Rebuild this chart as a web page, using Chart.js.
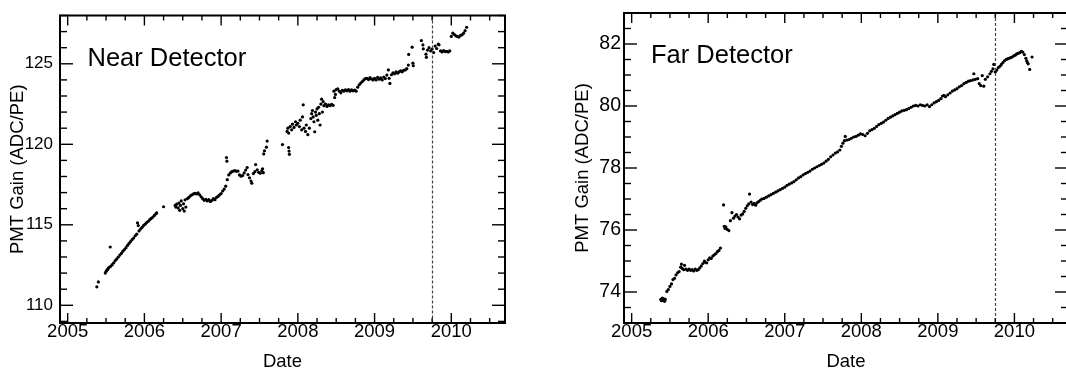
<!DOCTYPE html>
<html>
<head>
<meta charset="utf-8">
<script src="https://cdn.jsdelivr.net/npm/chart.js@4.4.1/dist/chart.umd.min.js"></script>
<style>
  html, body { margin: 0; padding: 0; background: #fff; overflow: hidden; }
  body { width: 1066px; height: 372px; position: relative; }
  canvas { position: absolute; top: 0; }
  #near { left: 0; }
  #far { left: 540px; }
</style>
</head>
<body>
<canvas id="near" width="540" height="372"></canvas>
<canvas id="far" width="540" height="372"></canvas>
<script>
// values: [year, gain]
const nearPoints = [
  [2005.38,111.15],[2005.40,111.45],
  [2005.49,112.00],[2005.50,112.10],[2005.51,112.18],[2005.52,112.22],[2005.53,112.30],[2005.54,112.36],
  [2005.555,113.62],[2005.56,112.42],[2005.58,112.52],[2005.60,112.64],[2005.62,112.78],[2005.64,112.88],
  [2005.66,113.00],[2005.68,113.12],[2005.70,113.22],[2005.72,113.36],[2005.74,113.46],[2005.76,113.58],
  [2005.78,113.72],[2005.80,113.84],[2005.82,113.96],[2005.84,114.08],[2005.86,114.18],[2005.88,114.32],
  [2005.90,114.42],[2005.91,115.12],[2005.92,114.95],[2005.93,114.62],[2005.95,114.74],[2005.97,114.84],
  [2005.99,114.96],[2006.01,115.04],[2006.03,115.14],[2006.05,115.22],[2006.07,115.32],[2006.09,115.40],
  [2006.11,115.48],[2006.13,115.58],[2006.15,115.68],[2006.16,115.74],
  [2006.25,116.12],
  [2006.40,116.20],[2006.41,116.10],[2006.42,116.28],[2006.44,116.05],[2006.45,116.35],[2006.46,115.90],
  [2006.47,116.20],[2006.48,116.48],[2006.50,116.00],[2006.51,116.30],[2006.52,115.85],[2006.53,116.55],
  [2006.54,116.10],[2006.56,116.62],[2006.58,116.70],[2006.60,116.80],[2006.62,116.86],[2006.64,116.92],
  [2006.66,116.96],[2006.68,116.92],[2006.70,116.98],[2006.72,116.86],[2006.74,116.74],[2006.76,116.62],
  [2006.78,116.52],[2006.80,116.58],[2006.82,116.48],[2006.84,116.56],[2006.86,116.44],[2006.88,116.52],
  [2006.90,116.62],[2006.92,116.56],[2006.94,116.70],[2006.96,116.76],[2006.98,116.86],[2007.00,116.94],
  [2007.02,117.10],[2007.04,117.22],[2007.06,117.40],[2007.07,119.18],[2007.075,118.95],[2007.08,117.80],
  [2007.10,118.10],[2007.12,118.22],[2007.14,118.30],[2007.16,118.34],[2007.18,118.36],[2007.20,118.32],
  [2007.22,118.34],[2007.24,118.10],[2007.26,118.02],[2007.28,118.06],[2007.30,118.22],[2007.32,118.40],
  [2007.34,118.56],[2007.35,118.12],[2007.37,117.92],[2007.39,117.72],[2007.40,117.58],[2007.42,118.18],
  [2007.44,118.30],[2007.45,118.74],[2007.47,118.42],[2007.49,118.26],[2007.51,118.20],[2007.53,118.36],
  [2007.54,118.48],[2007.55,118.24],[2007.555,119.40],[2007.565,119.60],[2007.59,119.82],[2007.60,120.20],
  [2007.80,119.98],[2007.88,119.80],[2007.885,119.58],[2007.89,119.38],
  [2007.86,120.80],[2007.87,121.00],[2007.88,120.70],[2007.90,121.10],[2007.92,120.90],[2007.93,121.25],
  [2007.95,121.05],[2007.97,121.40],[2007.98,121.20],[2008.00,121.30],[2008.02,121.10],[2008.03,121.50],
  [2008.05,120.90],[2008.06,121.70],[2008.07,122.45],[2008.08,121.00],[2008.10,120.80],[2008.11,121.20],
  [2008.13,120.60],[2008.15,121.00],[2008.17,121.60],[2008.18,121.90],[2008.19,122.10],[2008.20,121.70],
  [2008.21,121.40],[2008.22,120.78],[2008.23,122.00],[2008.24,121.80],[2008.25,122.20],[2008.26,121.50],
  [2008.27,122.30],[2008.28,121.90],[2008.29,121.20],[2008.30,122.50],[2008.31,122.80],[2008.32,122.00],
  [2008.33,122.65],[2008.34,122.40],[2008.36,122.50],[2008.38,122.35],[2008.40,122.45],[2008.42,122.40],
  [2008.44,122.48],[2008.46,122.42],[2008.47,123.30],[2008.48,122.90],[2008.49,123.10],[2008.50,123.40],
  [2008.52,123.45],[2008.54,123.30],[2008.56,123.20],[2008.58,123.35],[2008.60,123.30],[2008.62,123.38],
  [2008.64,123.32],[2008.66,123.40],[2008.68,123.30],[2008.70,123.38],[2008.72,123.32],[2008.74,123.36],
  [2008.76,123.30],[2008.78,123.55],[2008.80,123.70],[2008.82,123.80],[2008.84,123.90],[2008.86,124.00],
  [2008.88,124.08],[2008.90,124.10],[2008.92,124.02],[2008.94,124.14],[2008.96,124.06],[2008.98,124.00],
  [2009.00,124.10],[2009.02,124.00],[2009.04,124.16],[2009.06,124.04],[2009.08,124.12],[2009.10,124.00],
  [2009.12,124.18],[2009.14,124.08],[2009.16,124.30],[2009.18,124.62],[2009.19,124.10],[2009.20,123.78],
  [2009.22,124.32],[2009.24,124.44],[2009.26,124.38],[2009.28,124.50],[2009.30,124.42],[2009.32,124.50],
  [2009.34,124.56],[2009.36,124.50],[2009.38,124.60],[2009.40,124.62],[2009.42,124.70],[2009.44,124.92],
  [2009.445,125.58],[2009.49,126.03],[2009.50,125.04],[2009.505,124.88],
  [2009.61,126.44],[2009.63,126.17],[2009.635,125.93],[2009.67,125.60],[2009.675,125.40],[2009.69,125.85],
  [2009.71,126.00],[2009.73,125.80],[2009.75,125.92],[2009.77,125.70],[2009.79,126.10],[2009.81,125.95],
  [2009.83,126.22],[2009.84,126.18],[2009.86,125.80],[2009.88,125.74],[2009.90,125.82],[2009.92,125.76],
  [2009.94,125.78],[2009.96,125.74],[2009.98,125.80],
  [2010.00,126.70],[2010.02,126.90],[2010.04,126.82],[2010.06,126.74],[2010.08,126.70],[2010.10,126.66],
  [2010.12,126.76],[2010.14,126.80],[2010.16,126.90],[2010.18,127.06],[2010.20,127.27]
];

const farPoints = [
  [2005.38,73.76],[2005.39,73.72],[2005.40,73.80],[2005.41,73.74],[2005.42,73.78],[2005.43,73.70],
  [2005.44,73.76],[2005.46,74.02],[2005.48,74.08],[2005.50,74.18],[2005.52,74.26],[2005.54,74.40],
  [2005.56,74.44],[2005.58,74.55],[2005.60,74.62],[2005.62,74.66],[2005.64,74.80],[2005.65,74.90],
  [2005.66,74.76],[2005.68,74.72],[2005.69,74.86],[2005.71,74.74],[2005.73,74.70],[2005.75,74.74],
  [2005.77,74.70],[2005.79,74.72],[2005.81,74.68],[2005.83,74.74],[2005.85,74.70],[2005.87,74.72],
  [2005.89,74.78],[2005.91,74.84],[2005.93,74.92],[2005.95,75.00],[2005.96,74.96],[2005.98,74.94],
  [2006.00,75.04],[2006.02,75.10],[2006.04,75.08],[2006.06,75.16],[2006.08,75.20],[2006.10,75.24],
  [2006.12,75.30],[2006.14,75.34],[2006.16,75.42],
  [2006.20,76.81],[2006.21,76.12],[2006.22,76.05],[2006.23,76.10],[2006.25,76.02],[2006.27,75.98],
  [2006.29,76.30],[2006.31,76.56],[2006.33,76.38],[2006.35,76.45],[2006.37,76.50],[2006.39,76.42],
  [2006.41,76.36],[2006.43,76.48],[2006.45,76.52],[2006.47,76.60],[2006.49,76.70],[2006.51,76.78],
  [2006.53,76.84],[2006.54,77.16],[2006.56,76.90],[2006.58,76.82],[2006.60,76.86],[2006.62,76.80],
  [2006.64,76.88],[2006.66,76.92],[2006.68,76.96],[2006.70,77.00],[2006.73,77.02],[2006.76,77.06],
  [2006.79,77.10],[2006.82,77.14],[2006.85,77.18],[2006.88,77.22],[2006.91,77.26],[2006.94,77.30],
  [2006.97,77.34],[2007.00,77.38],[2007.03,77.44],[2007.06,77.48],[2007.09,77.52],[2007.12,77.56],
  [2007.15,77.62],[2007.18,77.68],[2007.21,77.72],[2007.24,77.78],[2007.27,77.82],[2007.30,77.86],
  [2007.33,77.90],[2007.36,77.96],[2007.39,78.00],[2007.42,78.04],[2007.45,78.08],[2007.48,78.12],
  [2007.51,78.16],[2007.54,78.22],[2007.57,78.28],[2007.60,78.36],[2007.63,78.42],[2007.66,78.48],
  [2007.69,78.52],[2007.72,78.58],[2007.74,78.70],[2007.76,78.80],[2007.78,78.88],[2007.79,79.02],
  [2007.81,78.90],[2007.84,78.92],[2007.87,78.96],[2007.90,79.00],[2007.93,79.02],[2007.96,79.06],
  [2007.99,79.10],[2008.02,79.08],[2008.05,79.04],[2008.08,79.12],[2008.11,79.20],[2008.14,79.24],
  [2008.17,79.28],[2008.20,79.34],[2008.23,79.40],[2008.26,79.44],[2008.29,79.48],[2008.32,79.54],
  [2008.35,79.60],[2008.38,79.64],[2008.41,79.68],[2008.44,79.72],[2008.47,79.76],[2008.50,79.80],
  [2008.53,79.84],[2008.56,79.86],[2008.59,79.88],[2008.62,79.92],[2008.65,79.96],[2008.68,80.00],
  [2008.71,80.02],[2008.74,80.00],[2008.77,80.04],[2008.80,80.02],[2008.83,80.00],[2008.86,80.04],
  [2008.89,79.98],[2008.92,80.04],[2008.95,80.10],[2008.98,80.14],[2009.01,80.18],[2009.04,80.24],
  [2009.06,80.32],[2009.08,80.34],[2009.10,80.30],[2009.13,80.36],[2009.16,80.42],[2009.19,80.48],
  [2009.22,80.52],[2009.25,80.56],[2009.28,80.62],[2009.31,80.66],[2009.34,80.72],[2009.37,80.76],
  [2009.40,80.80],[2009.43,80.82],[2009.46,80.84],[2009.47,81.04],[2009.49,80.86],[2009.52,80.88],
  [2009.54,80.72],[2009.56,80.66],[2009.58,80.98],[2009.60,80.64],[2009.62,80.86],[2009.65,80.94],
  [2009.68,81.04],[2009.70,81.12],[2009.72,81.20],[2009.73,81.34],[2009.75,81.10],[2009.77,81.16],
  [2009.79,81.24],[2009.81,81.28],[2009.83,81.34],[2009.85,81.40],[2009.87,81.46],[2009.89,81.50],
  [2009.91,81.52],[2009.93,81.54],[2009.95,81.56],[2009.97,81.58],[2009.99,81.62],[2010.01,81.64],
  [2010.03,81.68],[2010.05,81.70],[2010.07,81.72],[2010.09,81.76],[2010.11,81.74],[2010.13,81.66],
  [2010.15,81.54],[2010.16,81.46],[2010.17,81.40],[2010.18,81.36],[2010.20,81.18],[2010.23,81.58]
];

const yearTicks = [2005, 2006, 2007, 2008, 2009, 2010];
const nearGainTicks = [110, 115, 120, 125];
const farGainTicks = [74, 76, 78, 80, 82];
const markerYear = 2009.75; // dashed line

const FONT = '"Liberation Sans", Helvetica, Arial, sans-serif';
Chart.defaults.font.family = FONT;
Chart.defaults.color = '#000';

// inward ticks on all four sides, frame, dashed marker and panel label
const rootFrame = {
  id: 'rootFrame',
  afterDatasetsDraw(chart, args, o) {
    const { ctx, chartArea: a, scales: { x, y } } = chart;
    ctx.save();

    const px = x.getPixelForValue(o.dashAt);
    ctx.strokeStyle = '#444';
    ctx.lineWidth = 1.2;
    ctx.setLineDash([3, 2]);
    ctx.beginPath();
    ctx.moveTo(Math.round(px) + 0.5, a.top);
    ctx.lineTo(Math.round(px) + 0.5, a.bottom);
    ctx.stroke();
    ctx.setLineDash([]);

    ctx.strokeStyle = '#000';
    ctx.lineWidth = 1.4;
    const line = (x1, y1, x2, y2) => { ctx.beginPath(); ctx.moveTo(x1, y1); ctx.lineTo(x2, y2); ctx.stroke(); };
    const ticks = (scale, step, major, horiz, majLen, minLen) => {
      const n0 = Math.ceil(scale.min / step - 1e-6), n1 = Math.floor(scale.max / step + 1e-6);
      for (let k = n0; k <= n1; k++) {
        const v = k * step;
        const isMajor = Math.abs(v / major - Math.round(v / major)) < 1e-6;
        const len = isMajor ? majLen : minLen;
        const p = scale.getPixelForValue(v);
        if (horiz) { line(p, a.bottom, p, a.bottom - len); line(p, a.top, p, a.top + len); }
        else { line(a.left, p, a.left + len, p); line(a.right, p, a.right - len, p); }
      }
    };
    ticks(x, 0.25, 1, true, 10, 5);
    ticks(y, o.yMinor, o.yMajor, false, 13, 7);

    ctx.lineWidth = 2;
    ctx.strokeRect(a.left, a.top, a.right - a.left, a.bottom - a.top);

    ctx.fillStyle = '#000';
    ctx.font = '25.5px ' + FONT;
    ctx.textBaseline = 'alphabetic';
    ctx.fillText(o.label, a.left + o.labelDx, a.top + 50);
    ctx.restore();
  }
};

function makePanel(id, points, cfg) {
  return new Chart(document.getElementById(id), {
    type: 'scatter',
    data: {
      datasets: [{
        data: points.map(p => ({ x: p[0], y: p[1] })),
        backgroundColor: '#000',
        borderWidth: 0,
        pointRadius: cfg.radius
      }]
    },
    plugins: [rootFrame],
    options: {
      responsive: false,
      animation: false,
      devicePixelRatio: 1,
      layout: { padding: { top: 13, right: cfg.padRight, bottom: 0, left: 0 } },
      plugins: {
        legend: { display: false },
        tooltip: { enabled: false },
        rootFrame: { dashAt: markerYear, label: cfg.label, labelDx: cfg.labelDx, yMinor: cfg.yMinor, yMajor: cfg.yMajor }
      },
      scales: {
        x: {
          type: 'linear',
          min: 2004.9,
          max: 2010.7,
          grid: { display: false, drawTicks: false, tickLength: 0 },
          border: { display: false },
          afterFit: s => { s.height = 49; },
          afterBuildTicks: s => { s.ticks = yearTicks.map(v => ({ value: v })); },
          ticks: {
            font: { size: 18.5, lineHeight: 1 },
            padding: 0,
            maxRotation: 0,
            autoSkip: false,
            callback: v => String(v)
          },
          title: { display: true, text: 'Date', font: { size: 18.5, lineHeight: 1 }, padding: { top: 0, bottom: 1 } }
        },
        y: {
          type: 'linear',
          min: cfg.yMin,
          max: cfg.yMax,
          grid: { display: false, drawTicks: false, tickLength: 0 },
          border: { display: false },
          afterFit: s => { s.width = cfg.axisWidth; },
          afterBuildTicks: s => { s.ticks = cfg.yTicks.map(v => ({ value: v })); },
          ticks: {
            font: { size: cfg.yTickSize, lineHeight: 1 },
            padding: cfg.yTickPad,
            autoSkip: false,
            callback: v => String(v)
          },
          title: {
            display: true,
            text: 'PMT Gain (ADC/PE)',
            font: { size: 18.5, lineHeight: 1 },
            padding: { top: cfg.yTitlePad, bottom: 0 }
          }
        }
      }
    }
  });
}

makePanel('near', nearPoints, {
  label: 'Near Detector', labelDx: 27.5, radius: 1.6,
  yMin: 108.9, yMax: 128, yTicks: nearGainTicks, yMinor: 1, yMajor: 5,
  axisWidth: 60, padRight: 35, yTickSize: 17, yTickPad: 7, yTitlePad: 9
});

makePanel('far', farPoints, {
  label: 'Far Detector', labelDx: 27, radius: 1.6,
  yMin: 73, yMax: 83, yTicks: farGainTicks, yMinor: 0.5, yMajor: 2,
  axisWidth: 84, padRight: 12, yTickSize: 19.5, yTickPad: 3, yTitlePad: 34
});
</script>
</body>
</html>
